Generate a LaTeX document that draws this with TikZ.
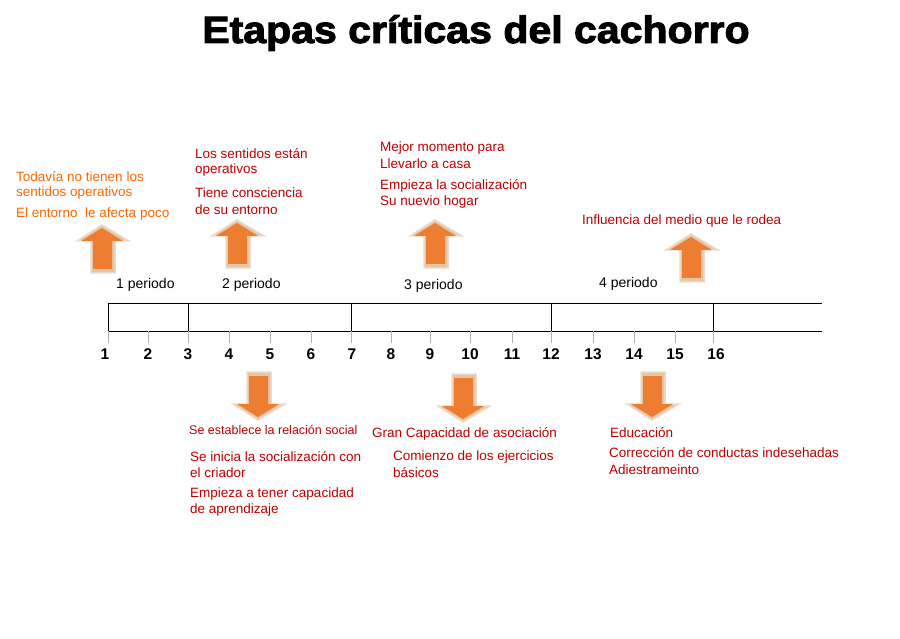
\documentclass[tikz,border=0pt]{standalone}
\usepackage{fontspec}
\setmainfont{Liberation Sans}
\newfontfamily\titlefont{Liberation Sans}[FakeBold=2.5,BoldFont={Liberation Sans Bold}]
\begin{document}
\begin{tikzpicture}[x=1pt,y=-1pt,
 org/.style={text=orange!80!red, font=\fontsize{13.5}{15}\selectfont, anchor=west, inner sep=0},
 rd/.style={text=red!75!black, font=\fontsize{13.5}{15}\selectfont, anchor=west, inner sep=0},
 per/.style={font=\fontsize{14}{16}\selectfont, anchor=west, inner sep=0},
 num/.style={font=\bfseries\fontsize{15.5}{17}\selectfont, inner sep=0},
 shadowc/.style={fill=brown!45!white, draw=brown!30!white, line width=1.5pt}]
\definecolor{ao}{HTML}{ED7D31}
\useasboundingbox (0,0) rectangle (900,639);
\fill[white] (0,0) rectangle (900,639);
\tikzset{
 pics/uarr/.style={code={
  \fill[shadowc] (0,0)--(27,16)--(13,16)--(13,48)--(-11,48)--(-11,16)--(-25,16)--cycle;
  \fill[ao] (0,3)--(21,16)--(10,16)--(10,44)--(-9,44)--(-9,16)--(-21,16)--cycle;}},
 pics/darr/.style={code={
  \fill[shadowc] (0,0)--(27,-16)--(13,-16)--(13,-48)--(-11,-48)--(-11,-16)--(-25,-16)--cycle;
  \fill[ao] (0,-3)--(21,-16)--(10,-16)--(10,-44)--(-9,-44)--(-9,-16)--(-21,-16)--cycle;}}}
\node[font=\titlefont\bfseries\fontsize{38}{42}\selectfont, xscale=1.08] (title) at (476,33) {Etapas críticas del cachorro};
% arrows
\pic at (102,225) {uarr};
\pic at (237,220) {uarr};
\pic at (435,220) {uarr};
\pic at (691,234) {uarr};
\pic at (258,420) {darr};
\pic at (463,422) {darr};
\pic at (652,420) {darr};
% timeline
\draw[line width=0.8pt] (108,303) -- (822,303);
\draw[line width=0.8pt] (108,331) -- (822,331);
\foreach \x in {108,188,351,551,713} \draw[line width=0.8pt] (\x,303) -- (\x,331);
\foreach \x in {108,148,188,229,270,311,351,391,430,470,512,551,593,634,675,713}
  \draw[gray!60] (\x,331) -- (\x,343);
\foreach \x/\n in {105/1,148/2,188/3,229/4,270/5,311/6,352/7,391/8,430/9,470/10,512/11,551/12,593/13,634/14,675/15,716/16}
  \node[num] (n\n) at (\x,354) {\n};
% periods
\node[per] (p1) at (116,285) {1 periodo};
\node[per] (p2) at (222,285) {2 periodo};
\node[per] (p3) at (404,286) {3 periodo};
\node[per] (p4) at (599,284) {4 periodo};
% texts
\node[org] (a1) at (16,177) {Todavía no tienen los};
\node[org] (a2) at (16,193) {sentidos operativos};
\node[org] (a3) at (16,214) {El entorno\ \ le afecta poco};
\node[rd] (b1) at (195,154) {Los sentidos están};
\node[rd] (b2) at (195,170) {operativos};
\node[rd] (b3) at (195,193) {Tiene consciencia};
\node[rd] (b4) at (195,210) {de su entorno};
\node[rd] (c1) at (380,148) {Mejor momento para};
\node[rd] (c2) at (380,164) {Llevarlo a casa};
\node[rd] (c3) at (380,186) {Empieza la socialización};
\node[rd] (c4) at (380,202) {Su nuevio hogar};
\node[rd] (d1) at (582,221) {Influencia del medio que le rodea};
\node[rd, font=\fontsize{12.5}{14}\selectfont] (e1) at (189,430) {Se establece la relación social};
\node[rd] (e2) at (190,457) {Se inicia la socialización con};
\node[rd] (e3) at (190,473) {el criador};
\node[rd] (e4) at (190,494) {Empieza a tener capacidad};
\node[rd] (e5) at (190,510) {de aprendizaje};
\node[rd] (f1) at (372,434) {Gran Capacidad de asociación};
\node[rd] (f2) at (393,457) {Comienzo de los ejercicios};
\node[rd] (f3) at (393,473) {básicos};
\node[rd] (g1) at (610,433) {Educación};
\node[rd] (g2) at (609,453) {Corrección de conductas indesehadas};
\node[rd] (g3) at (609,470) {Adiestrameinto};
\end{tikzpicture}
\end{document}
